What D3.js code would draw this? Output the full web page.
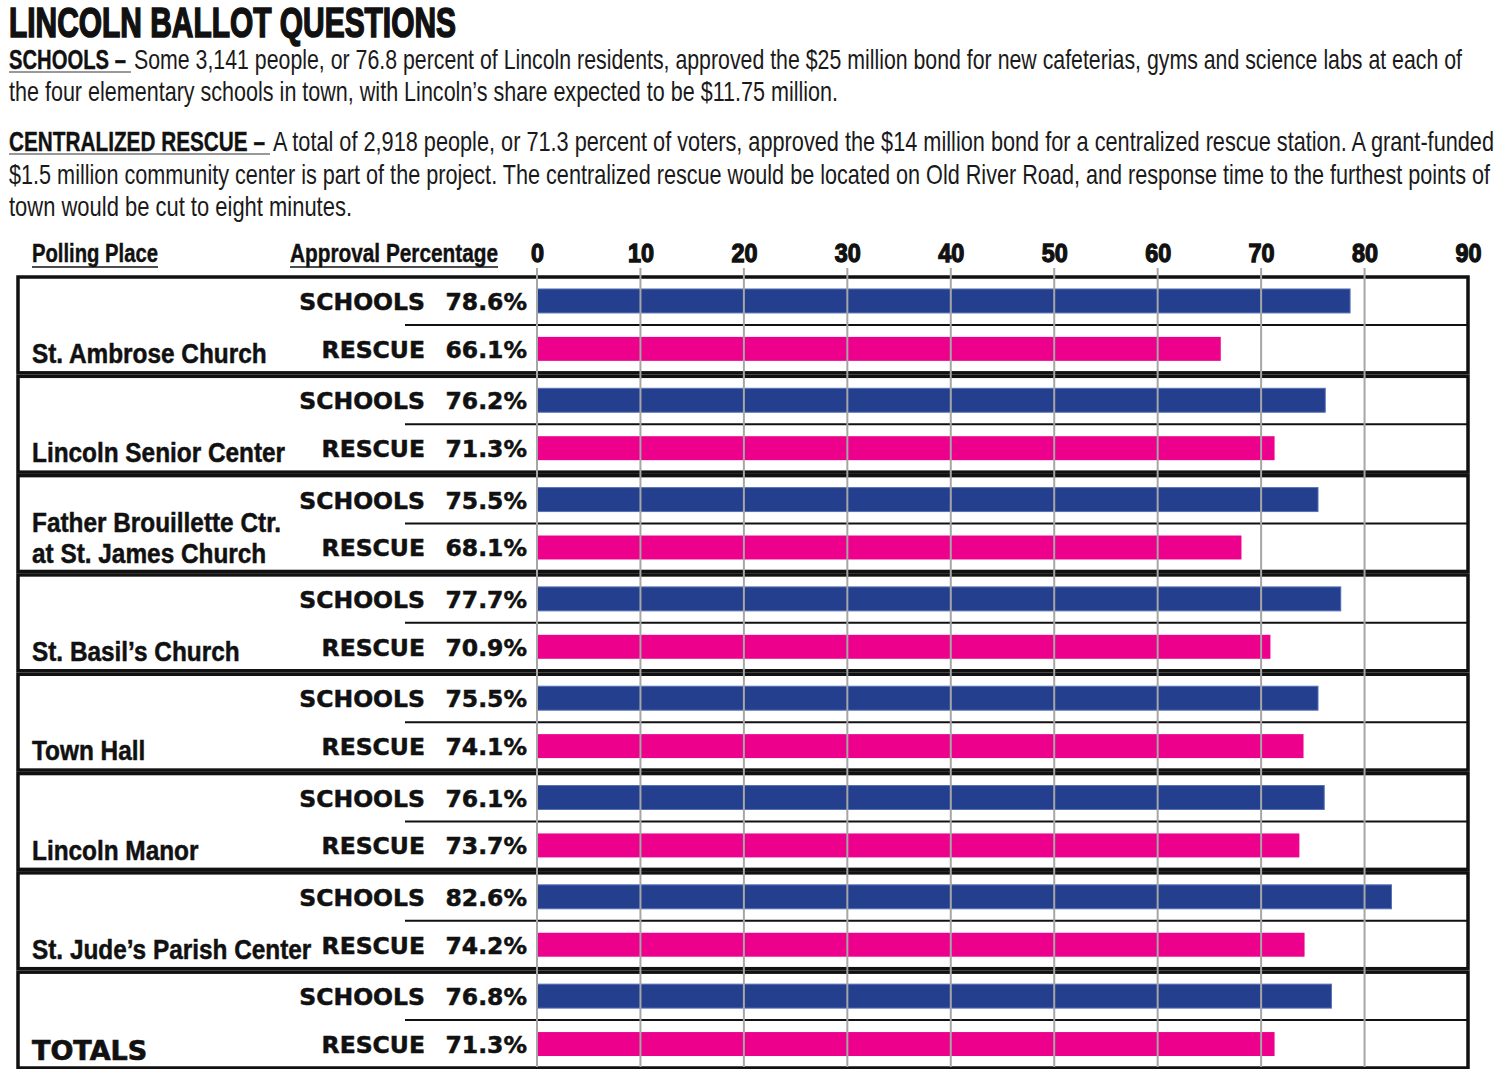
<!DOCTYPE html>
<html>
<head>
<meta charset="utf-8">
<script src="https://cdn.jsdelivr.net/npm/d3@7"></script>
<style>
  html, body { margin: 0; padding: 0; background: #fff; }
  svg { display: block; }
</style>
</head>
<body>
<svg id="chart" width="1500" height="1069"></svg>
<script>
// ---------------- DATA ----------------
const title = "LINCOLN BALLOT QUESTIONS";
const introLines = [
  { lead: "SCHOOLS –", text: "Some 3,141 people, or 76.8 percent of Lincoln residents, approved the $25 million bond for new cafeterias, gyms and science labs at each of" },
  { lead: "", text: "the four elementary schools in town, with Lincoln’s share expected to be $11.75 million." },
  { lead: "CENTRALIZED RESCUE –", text: "A total of 2,918 people, or 71.3 percent of voters, approved the $14 million bond for a centralized rescue station. A grant-funded" },
  { lead: "", text: "$1.5 million community center is part of the project. The centralized rescue would be located on Old River Road, and response time to the furthest points of" },
  { lead: "", text: "town would be cut to eight minutes." }
];
const places = [
  "St. Ambrose Church",
  "Lincoln Senior Center",
  "Father Brouillette Ctr.\nat St. James Church",
  "St. Basil’s Church",
  "Town Hall",
  "Lincoln Manor",
  "St. Jude’s Parish Center",
  "TOTALS"
];
const seriesNames = ["SCHOOLS", "RESCUE"];
const schoolsPct = [78.6, 76.2, 75.5, 77.7, 75.5, 76.1, 82.6, 76.8];
const rescuePct  = [66.1, 71.3, 68.1, 70.9, 74.1, 73.7, 74.2, 71.3];
const tickValues = [0, 10, 20, 30, 40, 50, 60, 70, 80, 90];
const headerLeft = "Polling Place";
const headerMid = "Approval Percentage";

// ---------------- DRAW ----------------
const svg = d3.select("#chart");
svg.append("rect").attr("width", 1500).attr("height", 1069).attr("fill", "#fff");

const COND = "'Liberation Sans', Arial, sans-serif";
const WIDE = "'DejaVu Sans', Verdana, sans-serif";
const colors = { SCHOOLS: "#243f8e", RESCUE: "#ec008c" };

function fit(sel, width) {
  sel.attr("textLength", width).attr("lengthAdjust", "spacingAndGlyphs");
}
function squeeze(sel, k) {
  sel.each(function () {
    const w = this.getComputedTextLength();
    d3.select(this).attr("textLength", w * k).attr("lengthAdjust", "spacingAndGlyphs");
  });
}

// Title
svg.append("text")
  .attr("x", 9).attr("y", 37)
  .attr("font-family", COND).attr("font-weight", 900).attr("font-size", 42)
  .attr("fill", "#111").attr("stroke", "#111").attr("stroke-width", 1.6)
  .text(title)
  .call(fit, 447);

// Intro paragraph
const introY = [69, 101, 151, 184, 216];
const leadW = { "SCHOOLS –": 117, "CENTRALIZED RESCUE –": 256 };
const lineEnd = [1462, 838, 1494, 1490, 352];
introLines.forEach((ln, i) => {
  let x = 9;
  if (ln.lead) {
    const w = leadW[ln.lead];
    svg.append("text")
      .attr("x", x).attr("y", introY[i])
      .attr("font-family", COND).attr("font-weight", 700).attr("font-size", 28)
      .attr("fill", "#111").attr("stroke", "#111").attr("stroke-width", 0.4)
      .text(ln.lead)
      .call(fit, w);
    svg.append("line")
      .attr("x1", x).attr("x2", x + w + 5)
      .attr("y1", introY[i] + 3).attr("y2", introY[i] + 3)
      .attr("stroke", "#777").attr("stroke-width", 1.5);
    x = x + w + 8;
  }
  svg.append("text")
    .attr("x", x).attr("y", introY[i])
    .attr("font-family", COND).attr("font-weight", 400).attr("font-size", 28)
    .attr("fill", "#1a1a1a")
    .text(ln.text)
    .call(fit, lineEnd[i] - x);
});

// Scales
const x = d3.scaleLinear().domain([0, 90]).range([537, 1468]);
const gy = d3.scaleBand().domain(d3.range(places.length)).range([277, 1068]).paddingInner(0.035);
const sy = d3.scaleBand().domain(seriesNames).range([0, gy.bandwidth()]).paddingInner(0.5).paddingOuter(0.25);

// Headers
function header(txt, x0, w) {
  svg.append("text")
    .attr("x", x0).attr("y", 262)
    .attr("font-family", COND).attr("font-weight", 700).attr("font-size", 25)
    .attr("fill", "#111").attr("stroke", "#111").attr("stroke-width", 0.4)
    .text(txt).call(fit, w);
  svg.append("line")
    .attr("x1", x0).attr("x2", x0 + w)
    .attr("y1", 267).attr("y2", 267)
    .attr("stroke", "#111").attr("stroke-width", 1.5);
}
header(headerLeft, 32, 126);
header(headerMid, 290, 208);

// Tick labels via axis
const axis = d3.axisTop(x).tickValues(tickValues).tickSize(0).tickPadding(0);
const axG = svg.append("g").attr("transform", "translate(0,262)").call(axis);
axG.select(".domain").remove();
axG.selectAll("text")
  .attr("font-family", COND).attr("font-weight", 900).attr("font-size", 26)
  .attr("fill", "#111").attr("dy", 0)
  .attr("stroke", "#111").attr("stroke-width", 1.3)
  .call(squeeze, 0.9);

const rows = places.map((p, i) => ({
  i, place: p,
  vals: [{ s: "SCHOOLS", v: schoolsPct[i] }, { s: "RESCUE", v: rescuePct[i] }]
}));

// Bars
const groups = svg.append("g").selectAll("g").data(rows).join("g")
  .attr("transform", d => `translate(0,${gy(d.i)})`);

groups.selectAll("rect.bar").data(d => d.vals).join("rect")
  .attr("class", "bar")
  .attr("x", x(0))
  .attr("y", d => sy(d.s))
  .attr("width", d => x(d.v) - x(0))
  .attr("height", sy.bandwidth())
  .attr("fill", d => colors[d.s])
  .attr("stroke", d => d.s === "SCHOOLS" ? "#5670b4" : "none")
  .attr("stroke-width", 1);

// Gridlines (over bars)
svg.append("g").selectAll("line").data(tickValues.slice(0, -1)).join("line")
  .attr("x1", d => x(d)).attr("x2", d => x(d))
  .attr("y1", 268).attr("y2", 1067)
  .attr("stroke", "#a6a6a6").attr("stroke-width", 2);

// Boxes and dividers
groups.append("rect")
  .attr("x", 18).attr("y", 0)
  .attr("width", 1468 - 18).attr("height", gy.bandwidth())
  .attr("fill", "none").attr("stroke", "#111").attr("stroke-width", 3.5);

groups.append("line")
  .attr("x1", 405).attr("x2", 1468)
  .attr("y1", gy.bandwidth() / 2).attr("y2", gy.bandwidth() / 2)
  .attr("stroke", "#111").attr("stroke-width", 2);

// Series labels and percentages
groups.selectAll("text.ser").data(d => d.vals).join("text")
  .attr("class", "ser")
  .attr("x", 425)
  .attr("y", d => sy(d.s) + sy.bandwidth() / 2 + 9)
  .attr("text-anchor", "end")
  .attr("font-family", WIDE).attr("font-weight", 700).attr("font-size", 23.5)
  .attr("fill", "#111").attr("stroke", "#111").attr("stroke-width", 0.5)
  .text(d => d.s);

groups.selectAll("text.pct").data(d => d.vals).join("text")
  .attr("class", "pct")
  .attr("x", 527)
  .attr("y", d => sy(d.s) + sy.bandwidth() / 2 + 9)
  .attr("text-anchor", "end")
  .attr("font-family", WIDE).attr("font-weight", 700).attr("font-size", 23.5)
  .attr("fill", "#111").attr("stroke", "#111").attr("stroke-width", 0.5)
  .text(d => d.v.toFixed(1) + "%");

// Place names
groups.each(function (d) {
  const g = d3.select(this);
  const lines = d.place.split("\n");
  const isTotal = d.place === "TOTALS";
  const base = lines.length === 1 ? [86] : [56, 87];
  lines.forEach((ln, j) => {
    const t = g.append("text")
      .attr("x", 32).attr("y", base[j] + (isTotal ? 2 : 0))
      .attr("fill", "#111")
      .text(ln);
    if (isTotal) {
      t.attr("font-family", WIDE).attr("font-weight", 700).attr("font-size", 27)
        .attr("stroke", "#111").attr("stroke-width", 0.7);
    } else {
      t.attr("font-family", COND).attr("font-weight", 700).attr("font-size", 28)
        .attr("stroke", "#111").attr("stroke-width", 0.5)
        .call(squeeze, 0.87);
    }
  });
});
</script>
</body>
</html>
